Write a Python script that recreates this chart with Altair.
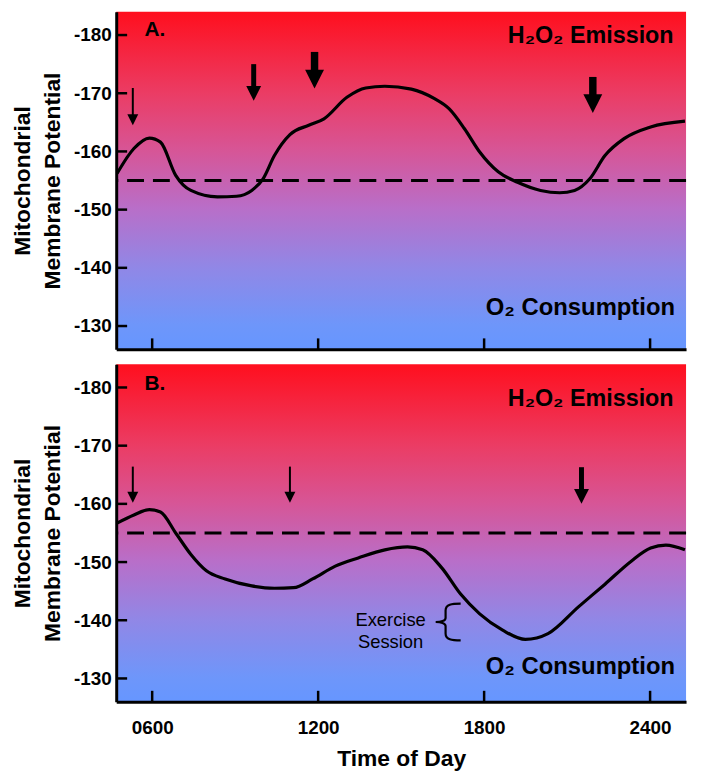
import altair as alt
import pandas as pd

# ---------------- data ----------------
X_DOMAIN = [4.7, 25.3]
Y_DOMAIN = [-184, -126]
X_TICKS = [6, 12, 18, 24]
X_TICK_LABELS = ["0600", "1200", "1800", "2400"]
Y_TICKS = [-180, -170, -160, -150, -140, -130]
THRESHOLD = [-155]

A_HOURS = [4.73, 5.34, 5.90, 6.30, 6.85, 7.40, 8.36, 9.05, 9.60, 10.01, 10.42, 10.98,
           11.66, 12.21, 13.04, 13.72, 14.41, 15.37, 16.19, 16.74, 17.29, 17.84, 18.51,
           19.21, 20.04, 20.73, 21.27, 21.82, 22.37, 23.06, 24.02, 25.26]
A_VALUES = [-156.2, -160.5, -162.3, -161.6, -155.9, -153.3, -152.2, -152.3, -153.3, -155.3,
            -159.3, -162.9, -164.5, -165.6, -169.3, -170.9, -171.2, -170.7, -169.1, -167.3,
            -163.9, -159.9, -156.5, -154.7, -153.3, -152.9, -153.3, -155.3, -159.3, -162.2,
            -164.2, -165.2]

B_HOURS = [4.73, 5.34, 5.90, 6.30, 6.85, 7.40, 7.96, 8.64, 9.60, 10.42, 11.11, 11.80,
           12.62, 13.45, 14.41, 15.23, 15.78, 16.47, 17.15, 17.84, 18.67, 19.49, 20.31,
           21.41, 22.37, 23.33, 24.02, 24.57, 25.26]
B_VALUES = [-156.7, -158.1, -159.0, -158.6, -155.0, -151.3, -148.5, -147.1, -145.9, -145.5,
            -145.6, -147.1, -149.3, -150.7, -152.1, -152.6, -152.1, -149.0, -144.5, -141.1,
            -138.3, -136.7, -137.7, -142.3, -146.2, -150.2, -152.4, -152.9, -152.1]

A_ARROW_HOURS = [5.30, 9.67, 11.87, 21.93]
A_ARROW_TOP = [-170.9, -175.0, -177.1, -172.8]
A_ARROW_TIP = [-164.5, -168.7, -170.8, -166.6]
A_ARROW_KIND = ["thin", "medium", "thick", "thick"]

B_ARROW_HOURS = [5.30, 10.98, 21.52]
B_ARROW_TOP = [-166.4, -166.4, -166.3]
B_ARROW_TIP = [-160.2, -160.2, -160.0]
B_ARROW_KIND = ["thin", "thin", "medium"]

PANEL_LETTERS = ["A.", "B."]
LETTER_POS = [(5.72, -179.8), (5.72, -179.5)]
TOP_LABEL = "H\u2082O\u2082 Emission"
BOTTOM_LABEL = "O\u2082 Consumption"
TOP_LABEL_POS = [(24.85, -178.7), (24.85, -176.8)]
BOTTOM_LABEL_POS = [(24.9, -131.9), (24.9, -130.8)]

EXERCISE_TEXT = ["Exercise", "Session"]
EXERCISE_POS = (14.62, -140.1)
BRACE_POS = (16.70, -139.7)

# ---------------- styles ----------------
FONT = "Liberation Sans"
W, H = 574, 340
ARROW_STYLE = {"thin": (2.0, 11), "medium": (5.0, 15), "thick": (7.5, 19)}
HEAD_PATH = "M-1,-1L1,-1L0,1Z"
BRACE_PATH = ("M0.68,-1 C0.2,-1 -0.14,-0.96 -0.14,-0.62 L-0.14,-0.22 "
              "C-0.14,-0.06 -0.4,0 -0.68,0 C-0.4,0 -0.14,0.06 -0.14,0.22 "
              "L-0.14,0.62 C-0.14,0.96 0.2,1 0.68,1")

GRAD = alt.Gradient(
    gradient="linear",
    stops=[
        alt.GradientStop(color="#ff0f1e", offset=0),
        alt.GradientStop(color="#eb3c64", offset=0.24),
        alt.GradientStop(color="#d75596", offset=0.41),
        alt.GradientStop(color="#b96ec8", offset=0.58),
        alt.GradientStop(color="#9187e6", offset=0.756),
        alt.GradientStop(color="#6e96fa", offset=0.927),
        alt.GradientStop(color="#6696ff", offset=1),
    ],
    x1=0, x2=0, y1=0, y2=1,
)

label_expr = " : ".join(
    f"datum.value == {v} ? '{l}'" for v, l in zip(X_TICKS, X_TICK_LABELS)
) + " : ''"

xscale = alt.Scale(domain=X_DOMAIN, nice=False, zero=False)
yscale = alt.Scale(domain=Y_DOMAIN, nice=False, zero=False, reverse=True)


def panel(idx, hours, values, a_hours, a_top, a_tip, a_kind, last):
    if last:
        xaxis = alt.Axis(values=X_TICKS, labelExpr=label_expr, tickSize=0, labelPadding=17,
                         labelFont=FONT, labelFontSize=19, labelFontWeight="bold",
                         labelColor="black", domainColor="black", domainWidth=3,
                         grid=False, title="Time of Day", titleFont=FONT,
                         titleFontSize=23, titleFontWeight="bold", titleColor="black",
                         titlePadding=10, zindex=2)
    else:
        xaxis = alt.Axis(values=X_TICKS, labels=False, tickSize=0, domainColor="black",
                         domainWidth=3, grid=False, title=None, zindex=2)
    yaxis = alt.Axis(values=Y_TICKS, labelExpr="'-' + abs(datum.value)", tickSize=0,
                     labelPadding=5, labelFont=FONT,
                     labelFontSize=19, labelFontWeight="bold", labelColor="black",
                     domainColor="black", domainWidth=3, grid=False,
                     title=["Mitochondrial", "Membrane Potential"], titleFont=FONT,
                     titleFontSize=23, titleFontWeight="bold", titleColor="black",
                     titleLineHeight=30, titlePadding=9, zindex=2)

    bg_df = pd.DataFrame({"x": [X_DOMAIN[0]], "x2": [X_DOMAIN[1]],
                          "y": [Y_DOMAIN[0]], "y2": [Y_DOMAIN[1]]})
    bg = alt.Chart(bg_df).mark_rect(fill=GRAD, stroke=None).encode(
        x=alt.X("x:Q", scale=xscale, axis=xaxis),
        x2="x2:Q",
        y=alt.Y("y:Q", scale=yscale, axis=yaxis),
        y2="y2:Q",
    )

    thr = alt.Chart(pd.DataFrame({"v": THRESHOLD})).mark_rule(
        color="black", strokeWidth=3, strokeDash=[17, 9]
    ).encode(y=alt.Y("v:Q", scale=yscale))

    curve = alt.Chart(pd.DataFrame({"h": hours, "v": values})).mark_line(
        color="black", strokeWidth=3.2, interpolate="monotone", clip=True
    ).encode(x=alt.X("h:Q", scale=xscale), y=alt.Y("v:Q", scale=yscale))

    yt = alt.Chart(pd.DataFrame({"v": Y_TICKS})).mark_rule(
        color="black", strokeWidth=2.5
    ).encode(y=alt.Y("v:Q", scale=yscale), x=alt.value(0), x2=alt.value(11))

    xt = alt.Chart(pd.DataFrame({"h": X_TICKS})).mark_rule(
        color="black", strokeWidth=2.5
    ).encode(x=alt.X("h:Q", scale=xscale), y=alt.value(H), y2=alt.value(H - 11))

    layers = [bg, thr, curve, yt, xt]

    adf = pd.DataFrame({"h": a_hours, "top": a_top, "tip": a_tip, "kind": a_kind})
    for kind, (sw, hs) in ARROW_STYLE.items():
        if kind not in a_kind:
            continue
        base = alt.Chart(adf).transform_filter(alt.datum.kind == kind)
        shaft = base.mark_rule(color="black", strokeWidth=sw, y2Offset=-hs / 2).encode(
            x=alt.X("h:Q", scale=xscale), y=alt.Y("top:Q", scale=yscale), y2="tip:Q"
        )
        head = base.mark_point(shape=HEAD_PATH, filled=True, size=hs * hs, color="black",
                               opacity=1, strokeWidth=0, yOffset=-hs / 2).encode(
            x=alt.X("h:Q", scale=xscale), y=alt.Y("tip:Q", scale=yscale)
        )
        layers += [shaft, head]

    lx, ly = LETTER_POS[idx]
    letter = alt.Chart(pd.DataFrame({"h": [lx], "v": [ly], "t": [PANEL_LETTERS[idx]]})).mark_text(
        font=FONT, fontSize=21, fontWeight="bold", color="black", align="left",
        baseline="alphabetic"
    ).encode(x=alt.X("h:Q", scale=xscale), y=alt.Y("v:Q", scale=yscale), text="t:N")

    tx, ty = TOP_LABEL_POS[idx]
    toplab = alt.Chart(pd.DataFrame({"h": [tx], "v": [ty], "t": [TOP_LABEL]})).mark_text(
        font=FONT, fontSize=23.5, fontWeight="bold", color="black", align="right",
        baseline="alphabetic"
    ).encode(x=alt.X("h:Q", scale=xscale), y=alt.Y("v:Q", scale=yscale), text="t:N")

    bx, by = BOTTOM_LABEL_POS[idx]
    botlab = alt.Chart(pd.DataFrame({"h": [bx], "v": [by], "t": [BOTTOM_LABEL]})).mark_text(
        font=FONT, fontSize=24, fontWeight="bold", color="black", align="right",
        baseline="alphabetic"
    ).encode(x=alt.X("h:Q", scale=xscale), y=alt.Y("v:Q", scale=yscale), text="t:N")

    layers += [letter, toplab, botlab]

    if last:
        ex = alt.Chart(pd.DataFrame({"h": [EXERCISE_POS[0]], "v": [EXERCISE_POS[1]]})).mark_text(
            font=FONT, fontSize=18.5, color="black", align="center", baseline="middle",
            lineHeight=23, text=EXERCISE_TEXT
        ).encode(x=alt.X("h:Q", scale=xscale), y=alt.Y("v:Q", scale=yscale))
        brace = alt.Chart(pd.DataFrame({"h": [BRACE_POS[0]], "v": [BRACE_POS[1]]})).mark_point(
            shape=BRACE_PATH, filled=False, size=37 * 37, color="black", strokeWidth=2.2,
            opacity=1
        ).encode(x=alt.X("h:Q", scale=xscale), y=alt.Y("v:Q", scale=yscale))
        layers += [ex, brace]

    return alt.layer(*layers).properties(width=W, height=H)


pa = panel(0, A_HOURS, A_VALUES, A_ARROW_HOURS, A_ARROW_TOP, A_ARROW_TIP, A_ARROW_KIND, False)
pb = panel(1, B_HOURS, B_VALUES, B_ARROW_HOURS, B_ARROW_TOP, B_ARROW_TIP, B_ARROW_KIND, True)

PAD = {"left": 3, "top": 1, "right": 5, "bottom": 0}
chart = alt.vconcat(pa, pb, spacing=13).properties(
    padding=PAD
).configure(background="white", padding=PAD).configure_view(stroke=None)

chart.save("out.html", embed_options={"renderer": "svg", "actions": False})
